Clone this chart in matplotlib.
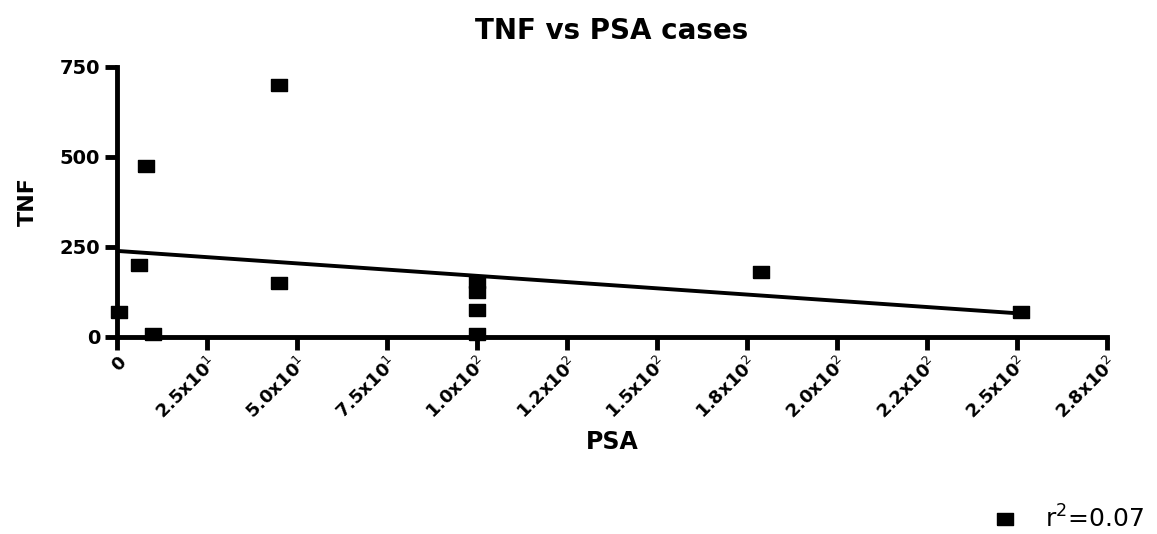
import matplotlib.pyplot as plt
import numpy as np

plt.rcParams['font.family'] = ['DejaVu Sans']

# PSA / TNF values for the cases
psa = np.array([0.5, 6, 8, 10, 45, 45, 100, 100, 100, 100, 179, 251])
tnf = np.array([70, 200, 475, 8, 700, 150, 153, 125, 75, 8, 180, 70])

xticks = [0, 25, 50, 75, 100, 125, 150, 175, 200, 225, 250, 275]
xticklabels = ['0', '2.5x10$^1$', '5.0x10$^1$', '7.5x10$^1$', '1.0x10$^2$', '1.2x10$^2$',
               '1.5x10$^2$', '1.8x10$^2$', '2.0x10$^2$', '2.2x10$^2$', '2.5x10$^2$', '2.8x10$^2$']
yticks = [0, 250, 500, 750]

# linear fit
slope, intercept = np.polyfit(psa, tnf, 1)
r2 = np.corrcoef(psa, tnf)[0, 1] ** 2
xfit = np.array([0, psa.max()])
yfit = intercept + slope * xfit

# flat square marker
box = [(-1, -0.78), (1, -0.78), (1, 0.78), (-1, 0.78), (-1, -0.78)]

fig = plt.figure(figsize=(11.57, 5.34), dpi=100)
ax = fig.add_axes([0.1011, 0.369, 0.8557, 0.5056])

ax.plot(xfit, yfit, color='black', lw=2.8, zorder=2)
ax.plot(psa, tnf, linestyle='none', marker=box, color='black', markersize=11.5,
        clip_on=False, zorder=3, label='r$^2$=%.2f' % r2)

ax.set_xlim(0, 275)
ax.set_ylim(0, 750)
ax.set_xticks(xticks)
ax.set_xticklabels(xticklabels, rotation=45, ha='right', rotation_mode='anchor',
                   fontsize=13, fontweight='bold')
ax.set_yticks(yticks)
ax.set_yticklabels([str(v) for v in yticks], fontsize=14, fontweight='bold')
ax.tick_params(axis='both', width=3.5, length=9, pad=3)

for s in ['top', 'right']:
    ax.spines[s].set_visible(False)
for s in ['left', 'bottom']:
    ax.spines[s].set_linewidth(3.5)

ax.set_title('TNF vs PSA cases', fontsize=20, fontweight='bold', pad=20)
ax.set_ylabel('TNF', fontsize=16, fontweight='bold', labelpad=16)
ax.set_xlabel('PSA', fontsize=17, fontweight='bold', labelpad=5)

fig.legend(loc='lower right', bbox_to_anchor=(1.008, -0.04), frameon=False,
           fontsize=18, handletextpad=0.6, markerscale=1.0)

fig.savefig('out.png', dpi=100)
